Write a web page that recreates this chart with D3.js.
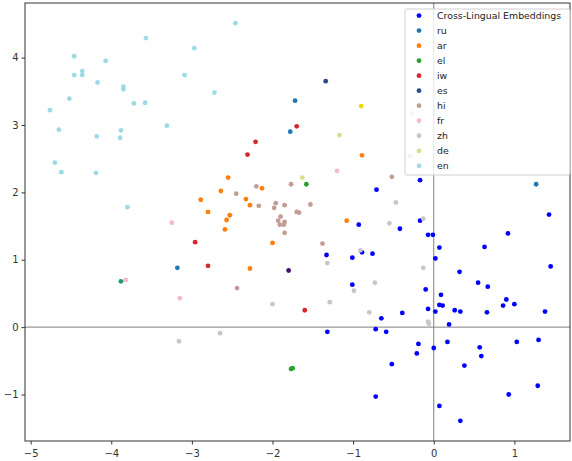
<!DOCTYPE html>
<html>
<head>
<meta charset="utf-8">
<script src="https://cdn.jsdelivr.net/npm/d3@7"></script>
<style>
  body { margin: 0; background: #fff; }
  text { font-family: "DejaVu Sans", sans-serif; }
</style>
</head>
<body>
<div id="chart"></div>
<script>
//data
const seriesNames = ["Cross-Lingual Embeddings","ru","ar","el","iw","es","hi","fr","zh","de","en"];
const seriesColors = ["#0000ff","#1f77b4","#ff7f0e","#2ca02c","#d62728","#2b4c8c","#c49c94","#f7b6d2","#c7c7c7","#dbdb8d","#9edae5"];

const cle = [[-0.17,2.18],[-0.71,2.04],[1.43,1.67],[-0.93,1.52],[-0.17,1.58],[-0.42,1.46],[0.92,1.39],[-0.07,1.37],[-0.01,1.37],
  [0.63,1.19],[0.07,1.18],[-1.33,1.07],[-0.89,1.11],[-0.76,1.09],[-1.01,1.03],[0.02,1.02],[1.45,0.90],[0.32,0.82],[-1.01,0.63],
  [0.55,0.66],[0.67,0.60],[-0.10,0.56],[0.09,0.48],[0.90,0.41],[0.86,0.32],[1.00,0.34],[0.07,0.33],[0.11,0.32],[-0.07,0.27],
  [0.02,0.23],[0.26,0.25],[0.33,0.23],[0.66,0.22],[1.38,0.23],[-0.39,0.21],[-0.65,0.13],[0.19,0.04],[-1.32,-0.07],[-0.72,-0.03],
  [-0.59,-0.07],[-0.19,-0.25],[0.17,-0.22],[0.00,-0.31],[0.57,-0.30],[1.03,-0.22],[1.30,-0.19],[-0.21,-0.39],[0.59,-0.43],
  [-0.52,-0.55],[0.38,-0.57],[1.29,-0.87],[0.93,-1.00],[-0.72,-1.03],[0.07,-1.17],[0.33,-1.39]];
const ru = [[-1.72,3.36],[-1.78,2.90],[-3.18,0.88],[1.27,2.12]];
const ar = [[-0.89,2.55],[-2.55,2.22],[-2.64,2.02],[-2.13,2.06],[-2.89,1.89],[-2.33,1.90],[-2.28,1.81],[-2.80,1.71],[-2.53,1.66],
  [-2.57,1.59],[-1.08,1.58],[-2.59,1.45],[-2.00,1.25],[-2.28,0.87]];
const el = [[-1.58,2.12],[-1.75,-0.61],[-1.77,-0.62]];
const iw = [[-1.70,2.98],[-2.21,2.75],[-2.31,2.56],[-2.96,1.26],[-2.80,0.91],[-1.60,0.25]];
const es = [[-1.34,3.65]];
const hi = [[-0.52,2.23],[-2.20,2.09],[-1.77,2.12],[-2.45,1.98],[-2.17,1.80],[-1.96,1.84],[-1.98,1.77],[-1.85,1.81],[-1.53,1.82],
  [-1.70,1.71],[-1.67,1.70],[-1.90,1.64],[-1.93,1.58],[-1.85,1.56],[-1.91,1.52],[-1.86,1.52],[-1.85,1.40],[-1.38,1.24],[-2.44,0.58]];
const fr = [[-1.20,2.32],[-3.25,1.55],[-3.15,0.43],[-3.82,0.70],[-0.27,3.17]];
const zh = [[-0.47,1.85],[-0.55,1.54],[-0.13,1.61],[-0.91,1.14],[-1.32,0.95],[-0.13,0.88],[-0.73,0.66],[-0.99,0.54],[-2.00,0.34],
  [-1.29,0.37],[-0.80,0.22],[-0.07,0.08],[-0.06,0.05],[-3.16,-0.21],[-2.65,-0.09],[-0.30,2.54]];
const de = [[-1.63,2.22],[-1.17,2.85]];
const en = [[-3.57,4.29],[-2.97,4.14],[-4.46,4.02],[-4.07,3.95],[-4.36,3.80],[-4.36,3.74],[-4.46,3.74],[-3.09,3.74],[-4.17,3.63],
  [-3.85,3.57],[-3.85,3.53],[-4.52,3.39],[-3.72,3.32],[-3.58,3.33],[-4.76,3.22],[-4.65,2.93],[-3.31,2.99],[-3.88,2.92],[-4.18,2.83],
  [-3.89,2.81],[-4.70,2.44],[-4.62,2.30],[-4.19,2.29],[-2.46,4.51],[-2.72,3.48],[-3.80,1.78]];
//a few stray points whose colours are not in the legend
const extraPoints = [[-0.90,3.28],[-1.80,0.84],[-3.88,0.68]];
const extraColors = ["#f2d600","#4a0f6e","#1f9a70"];

const seriesPoints = [cle,ru,ar,el,iw,es,hi,fr,zh,de,en];
const xTicks = [-5,-4,-3,-2,-1,0,1];
const yTicks = [-1,0,1,2,3,4];

//layout
var width = 572, height = 461;
var padL = 25, padR = 570, padT = 3, padB = 441;

var svg = d3.select("#chart").append("svg")
    .attr("width", width)
    .attr("height", height);

var xScale = d3.scaleLinear().domain([-5.07, 1.69]).range([padL, padR]);
var yScale = d3.scaleLinear().domain([-1.69, 4.81]).range([padB, padT]);

//zero lines
svg.append("line").attr("x1", padL).attr("x2", padR).attr("y1", yScale(0)).attr("y2", yScale(0))
    .attr("stroke", "#808080").attr("stroke-width", 1);
svg.append("line").attr("x1", xScale(0)).attr("x2", xScale(0)).attr("y1", padT).attr("y2", padB)
    .attr("stroke", "#808080").attr("stroke-width", 1);

//points
var flat = [];
seriesPoints.forEach(function(pts, i) {
    pts.forEach(function(p) { flat.push({x: p[0], y: p[1], c: seriesColors[i]}); });
});
extraPoints.forEach(function(p, i) { flat.push({x: p[0], y: p[1], c: extraColors[i]}); });

svg.append("g").selectAll("circle").data(flat).enter().append("circle")
    .attr("cx", function(d) { return xScale(d.x); })
    .attr("cy", function(d) { return yScale(d.y); })
    .attr("r", 2.4)
    .style("fill", function(d) { return d.c; });

//axes
var fmt = function(d) { return d < 0 ? "\u2212" + (-d) : d; };
var xAxis = svg.append("g").attr("transform", "translate(0," + padB + ")")
    .call(d3.axisBottom(xScale).tickValues(xTicks).tickSize(3.5).tickFormat(fmt));
var yAxis = svg.append("g").attr("transform", "translate(" + padL + ",0)")
    .call(d3.axisLeft(yScale).tickValues(yTicks).tickSize(3.5).tickFormat(fmt));
[xAxis, yAxis].forEach(function(a) {
    a.select(".domain").remove();
    a.selectAll("line").attr("stroke", "#333");
    a.selectAll("text").attr("fill", "#333").style("font-size", "10px").style("font-family", "DejaVu Sans, sans-serif");
});
xAxis.selectAll("text").attr("dy", "0.95em");

//frame
svg.append("rect").attr("x", padL).attr("y", padT).attr("width", padR - padL).attr("height", padB - padT)
    .attr("fill", "none").attr("stroke", "#333").attr("stroke-width", 1);

//legend
var legend = svg.append("g");
legend.append("rect").attr("x", 405).attr("y", 9).attr("width", 165).attr("height", 166).attr("rx", 2)
    .attr("fill", "white").attr("fill-opacity", 0.8).attr("stroke", "#d0d0d0");
seriesNames.forEach(function(name, i) {
    var y = 15.6 + i * 15.02;
    legend.append("circle").attr("cx", 419).attr("cy", y).attr("r", 2.4).style("fill", seriesColors[i]);
    legend.append("text").attr("x", 437).attr("y", y).attr("dy", "0.35em")
        .style("font-size", "9.4px").attr("fill", "#222").text(name);
});
</script>
</body>
</html>
